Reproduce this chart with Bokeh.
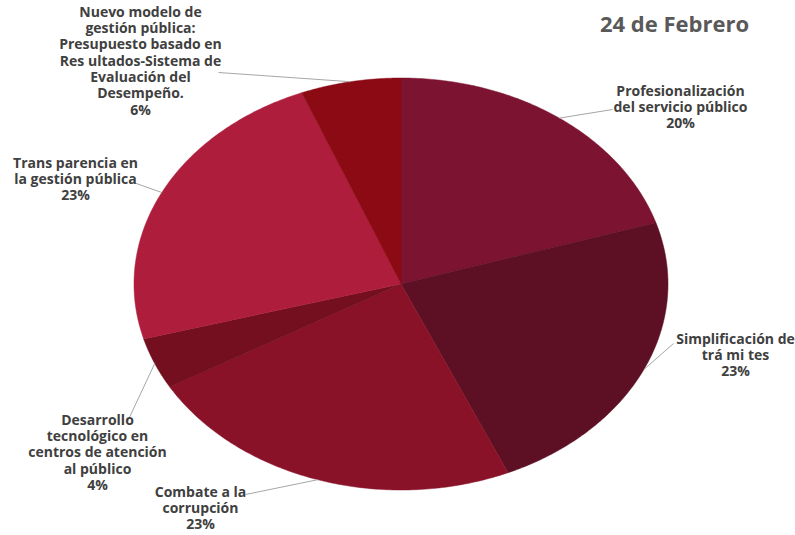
import numpy as np
from bokeh.plotting import figure
from bokeh.models import Range1d
from bokeh.core.properties import value
from bokeh.embed import file_html
from bokeh.resources import INLINE

# ---- data ----
categories = [
    "Profesionalización\ndel servicio público",
    "Simplificación de\ntrá mi tes",
    "Combate a la\ncorrupción",
    "Desarrollo\ntecnológico en\ncentros de atención\nal público",
    "Trans parencia en\nla gestión pública",
    "Nuevo modelo de\ngestión pública:\nPresupuesto basado en\nRes ultados-Sistema de\nEvaluación del\nDesempeño.",
]
values = [20, 23, 23, 4, 23, 6]
title_text = "24 de Febrero"

# ---- style / layout ----
colors = ["#7c1330", "#5d0f24", "#891228", "#730f1e", "#ae1e3c", "#8c0a14"]
label_x = [680, 735, 200, 97, 75, 140]
label_y = [80, 328, 481, 409, 152, 1]
anchor_x = [612, 673, 245, 127, 133, 218]
anchor_y = [109, 343, 494, 421, 182, 72]

W, H = 795, 535
p = figure(width=W, height=H, output_backend="svg", toolbar_location=None,
           x_range=Range1d(0, W), y_range=Range1d(H, 0),
           min_border=0)
p.axis.visible = False
p.grid.visible = False
p.outline_line_color = None
p.background_fill_color = "white"

cx, cy, rx, ry = 400.5, 283.5, 267, 206
total = float(sum(values))
cum = np.concatenate([[0.0], np.cumsum(values)]) / total * 2 * np.pi
xs, ys, mx, my = [], [], [], []
for i in range(len(values)):
    t = np.linspace(cum[i], cum[i + 1], 120)
    xs.append([cx] + list(cx + rx * np.sin(t)))
    ys.append([cy] + list(cy - ry * np.cos(t)))
    tm = 0.5 * (cum[i] + cum[i + 1])
    mx.append(cx + rx * np.sin(tm))
    my.append(cy - ry * np.cos(tm))

p.patches(xs, ys, fill_color=colors, line_color=colors, line_width=0.5)

p.segment(x0=anchor_x, y0=anchor_y, x1=mx, y1=my, line_color="#a6a6a6", line_width=1)

texts = [f"{c}\n{v}%" for c, v in zip(categories, values)]
p.text(x=label_x, y=label_y, text=texts, text_align="center", text_baseline="top",
       text_font=value("Open Sans"), text_font_style="bold", text_font_size="14px",
       text_color="#404040", text_line_height=0.86)

p.text(x=[674], y=[22], text=[title_text], text_align="center", text_baseline="middle",
       text_font=value("Open Sans"), text_font_style="bold", text_font_size="22px",
       text_color="#595959")

open("out.html", "w").write(file_html(p, INLINE))
